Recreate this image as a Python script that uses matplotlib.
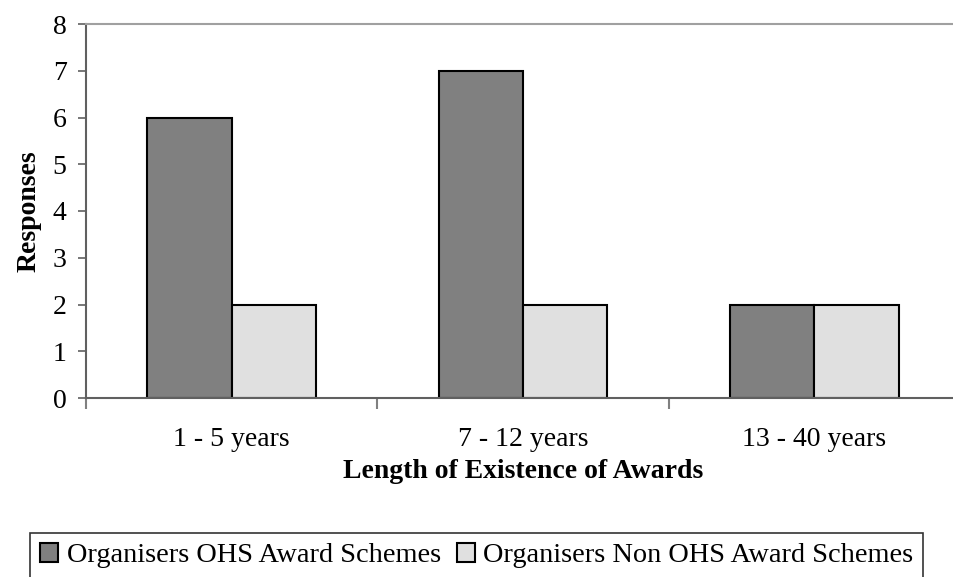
import numpy as np
import matplotlib
matplotlib.use('Agg')
import matplotlib.pyplot as plt

categories = ['1 - 5 years', '7 - 12 years', '13 - 40 years']
ohs = [6, 7, 2]
non_ohs = [2, 2, 2]
series_names = ['Organisers OHS Award Schemes', 'Organisers Non OHS Award Schemes']

plt.rcParams['font.family'] = ['Liberation Serif', 'DejaVu Serif']

fig = plt.figure(figsize=(9.54, 5.77), dpi=100)
ax = fig.add_axes([86 / 954, 179 / 577, 874 / 954, 374 / 577])

x = np.arange(len(categories)) + 0.5
w = 0.289
b1 = ax.bar(x - w / 2, ohs, w, color='#808080', edgecolor='black', lw=1.5, label=series_names[0])
b2 = ax.bar(x + w / 2, non_ohs, w, color='#e0e0e0', edgecolor='black', lw=1.5, label=series_names[1])

ax.set_xlim(0, 3)
ax.set_ylim(0, 8)
ax.set_yticks(range(0, 9))
ax.set_xticks([0, 1, 2, 3])
ax.set_xticklabels([])
ax.set_xticks(x, minor=True)
ax.set_xticklabels(categories, minor=True)
ax.tick_params(axis='x', which='minor', length=0, pad=21, labelsize=20)
ax.tick_params(axis='x', which='major', length=8, width=1.5, color='#808080')
ax.tick_params(axis='y', length=6, width=1.2, color='#606060', labelsize=20, pad=8)

ax.spines['top'].set_color('#a0a0a0')
ax.spines['top'].set_linewidth(1.5)
ax.spines['right'].set_visible(False)
ax.spines['left'].set_color('#606060')
ax.spines['left'].set_linewidth(1.5)
ax.spines['bottom'].set_color('#606060')
ax.spines['bottom'].set_linewidth(1.5)

ax.set_xlabel('Length of Existence of Awards', fontsize=20, fontweight='bold', labelpad=5)
ax.set_ylabel('Responses', fontsize=20, fontweight='bold', labelpad=8)

leg = fig.legend(handles=[b1, b2], loc='upper left', bbox_to_anchor=(30 / 954, 1 - 533 / 577),
                 ncol=2, fontsize=20.4, frameon=True, fancybox=False, borderaxespad=0,
                 handlelength=0.65, handleheight=0.65, handletextpad=0.3, columnspacing=0.55,
                 borderpad=0.35)
leg.get_frame().set_edgecolor('black')
leg.get_frame().set_linewidth(1.2)

fig.savefig('out.png', dpi=100)
